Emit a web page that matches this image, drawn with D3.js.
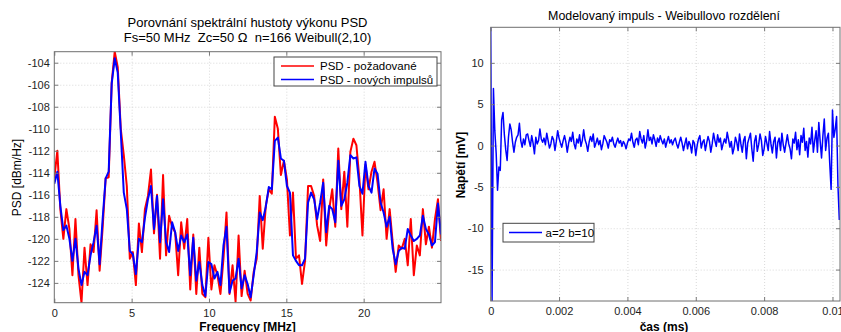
<!DOCTYPE html>
<html>
<head>
<meta charset="utf-8">
<script src="https://cdn.jsdelivr.net/npm/d3@7"></script>
<style>
  body { margin: 0; background: #fff; }
  svg { font-family: "Liberation Sans", Arial, sans-serif; }
  .grid line { stroke: #cfcfcf; stroke-dasharray: 1,2; stroke-width: 0.8; }
  .grid path { display: none; }
  .ax path { display: none; }
  .ax line { stroke: #7a7a7a; }
  .ax text { fill: #1e1e1e; font-size: 11px; }
</style>
</head>
<body>
<div id="chart"></div>
<script>
// PSD, 256-pt FFT at Fs = 50 MHz -> 129 bins from 0 to 25 MHz
const psdRed = [
  -114.5, -112.0, -117.3, -120.0, -117.3, -119.1, -123.3, -118.2, -123.3, -125.8,
  -120.8, -124.2, -120.5, -121.2, -117.4, -122.9, -119.0, -114.5, -114.4, -105.8,
  -103.0, -104.4, -110.0, -112.4, -115.2, -121.8, -121.2, -124.2, -118.6, -121.2,
  -117.3, -116.1, -113.7, -119.5, -116.0, -121.8, -114.2, -121.5, -117.9, -118.9,
  -119.4, -123.3, -118.5, -120.9, -118.2, -124.6, -119.6, -125.0, -120.8, -125.0,
  -125.3, -119.9, -124.6, -122.4, -123.3, -125.0, -121.8, -117.6, -125.0, -122.4,
  -125.7, -119.7, -125.2, -122.9, -125.0, -125.6, -123.0, -121.8, -116.1, -120.9,
  -117.0, -115.5, -115.9, -108.9, -110.0, -114.2, -112.9, -114.6, -119.7, -115.8,
  -121.8, -121.5, -124.1, -122.0, -115.2, -115.2, -116.1, -118.8, -120.2, -114.6,
  -120.6, -117.3, -115.5, -118.9, -111.8, -117.3, -113.9, -118.9, -112.1, -110.9,
  -111.5, -114.6, -119.7, -113.3, -115.5, -113.9, -113.0, -114.9, -117.4, -115.5,
  -120.0, -117.3, -120.3, -123.0, -120.6, -120.9, -120.0, -122.4, -118.2, -123.3,
  -120.6, -121.5, -117.3, -120.5, -118.9, -120.8, -118.2, -116.4, -120.2
];
const psdBlue = [
  -115.0, -113.9, -117.0, -119.2, -118.8, -120.0, -122.0, -120.0, -122.7, -124.2,
  -123.0, -123.3, -121.5, -120.3, -118.8, -122.3, -118.2, -114.5, -113.9, -105.9,
  -103.6, -104.9, -110.3, -115.8, -117.3, -121.1, -121.4, -123.2, -120.0, -120.3,
  -118.1, -116.4, -115.2, -119.1, -116.1, -120.3, -116.4, -120.3, -121.2, -118.5,
  -119.4, -121.1, -119.7, -120.3, -119.6, -123.3, -119.9, -123.8, -122.1, -124.2,
  -125.2, -122.1, -122.3, -123.6, -123.0, -124.2, -120.6, -118.9, -124.9, -123.8,
  -123.6, -121.8, -124.5, -123.3, -124.1, -125.3, -123.3, -121.2, -117.6, -118.3,
  -117.1, -115.3, -115.5, -111.1, -110.8, -112.7, -112.9, -115.2, -115.8, -121.5,
  -122.0, -122.4, -122.4, -121.8, -116.7, -115.8, -116.4, -118.2, -116.7, -114.9,
  -119.4, -117.0, -117.3, -118.5, -112.9, -117.0, -116.4, -114.9, -112.4, -112.7,
  -112.6, -115.2, -115.9, -113.0, -115.2, -115.8, -113.6, -114.1, -116.7, -117.6,
  -118.9, -118.0, -120.9, -122.3, -121.1, -120.8, -120.9, -119.1, -119.7, -120.2,
  -120.0, -119.7, -117.9, -119.1, -119.6, -120.6, -120.3, -116.8, -119.6
];
// modelled pulse [mV], every 2nd sample (40 ns)
const pulse = [
  14.3, -18.8, 6.9, 1.8, -0.9, -5.4, -2.6, -3.0, 3.1, 4.0,
  1.3, -0.5, -1.8, 1.0, 2.6, 1.9, 0.4, -0.8, 0.4, 1.0,
  1.3, 2.7, 0.6, -0.2, 0.8, 0.1, 1.3, 1.4, 0.6, -0.1,
  1.2, 0.3, -1.0, 1.0, 0.2, 0.6, 2.0, 0.8,
  0.4, 0.9, 0.1, 1.5, 0.6, -0.3, 0.2, 1.1, 0.7, -0.6, 0.5, 1.8, 0.9, 0.3, -0.2, 0.6, 1.2, 0.4, -0.8, 0.3,
  1.0, 0.5, 1.6, 0.2, -0.4, 0.8, 0.3, 1.3, -0.1, 0.6, 1.9, 0.7, 0.2, -0.7, 0.4, 1.1, 0.5, 1.4, -0.2, 0.3,
  0.9, 0.1, 0.6, -0.5, 0.2, 1.2, 0.8, 0.4, -0.3, 0.7, 0.5, 1.0, 0.2, -0.2, 0.4, 0.9, 0.3, 0.6, -0.1, 0.5,
  0.2, -0.4, 0.3, 0.8, 0.6, 1.5, 0.4, -0.2, 0.7, 0.9, 0.1, 1.7, 0.8, 0.3, 1.2, -0.3, 0.5, 1.9, 0.6, 1.0,
  0.2, 1.3, 0.7, -0.1, 0.9, 0.4, 1.2, 0.6, 0.2, 0.8, -0.2, 0.5, 1.1, 0.3, 0.7, 0.1, 0.6, 0.9, 0.2, -0.3,
  0.4, 1.0, 0.3, -0.6, 0.2, 0.9, -0.4, 0.5, 0.1, -0.9, 0.6, 0.3, -1.2, 0.0, 0.8, 1.2, -0.3, 0.4, 0.7, -0.6,
  0.3, 1.1, 0.5, -0.8, 0.2, 1.5, 0.6, -0.1, 1.3, 0.4, 0.9, -0.5, 0.2, 0.8, 0.3, 1.6, 0.7, -0.2, 0.5, -1.0,
  -0.3, 1.0, 0.4, -0.6, 1.4, 0.2, -0.8, 0.6, 1.1, -1.6, 0.3, 0.9, 1.5, -0.4, -1.9, 0.5, 1.2, -0.7, 0.1, 1.4,
  0.6, -1.2, -0.4, 1.1, 0.3, -0.6, 1.7, 0.2, -0.9, 0.5, 1.0, -1.5, 0.4, 0.9, -0.6, 1.5, 0.1, -0.8, 0.3, 1.3,
  0.2, -0.4, -1.6, 0.8, 0.3, 1.6, -0.5, 0.7, -1.1, 1.2, 0.4, 2.1, -0.6, 0.5, -1.4, 0.9, 0.2, 2.2, -0.8, 0.6,
  1.8, -0.8, 2.8, 0.5, -1.5, 1.2, 3.2, -0.6, 0.9, 1.5, -2.2, -5.3, 4.3, 1.0, 2.0, 3.5, -4.8, -9.0
];
const freqTicks = [0, 5, 10, 15, 20];
const psdTicks = [-124, -122, -120, -118, -116, -114, -112, -110, -108, -106, -104];
const timeTicks = [0, 0.002, 0.004, 0.006, 0.008, 0.01];
const voltTicks = [-15, -10, -5, 0, 5, 10];

const fs = 50;                        // MHz
const freqStep = fs / 256;            // MHz per bin
const timeStep = 2 / (fs * 1000);     // ms per stored sample
const timeMax = 511 / (fs * 1000);

const width = 841, height = 332;
const svg = d3.select("#chart").append("svg")
  .attr("width", width).attr("height", height);

function drawPanel(x, y, xt, yt, id) {
  const [x0, x1] = x.range(), [y1, y0] = y.range();
  const g = svg.append("g");
  g.append("rect").attr("x", x0).attr("y", y0).attr("width", x1 - x0).attr("height", y1 - y0).attr("fill", "#fff");
  g.append("g").attr("class", "grid").attr("transform", `translate(0,${y1})`)
    .call(d3.axisBottom(x).tickValues(xt.filter(d => d > x.domain()[0])).tickSize(-(y1 - y0)).tickFormat(""));
  g.append("g").attr("class", "grid").attr("transform", `translate(${x0},0)`)
    .call(d3.axisLeft(y).tickValues(yt).tickSize(-(x1 - x0)).tickFormat(""));
  svg.append("clipPath").attr("id", id).append("rect")
    .attr("x", x0).attr("y", y0).attr("width", x1 - x0).attr("height", y1 - y0);
  return g;
}

function drawFrame(x, y, xt, yt, xf, lpad) {
  const [x0, x1] = x.range(), [y1, y0] = y.range();
  const g = svg.append("g");
  g.append("g").attr("class", "ax").attr("transform", `translate(0,${y1})`)
    .call(d3.axisBottom(x).tickValues(xt).tickSize(-4).tickPadding(6.5).tickFormat(xf));
  g.append("g").attr("class", "ax").attr("transform", `translate(0,${y0})`)
    .call(d3.axisTop(x).tickValues(xt).tickSize(-4).tickFormat(""));
  g.append("g").attr("class", "ax").attr("transform", `translate(${x0},0)`)
    .call(d3.axisLeft(y).tickValues(yt).tickSize(-4).tickPadding(lpad).tickFormat(d3.format("d")));
  g.append("g").attr("class", "ax").attr("transform", `translate(${x1},0)`)
    .call(d3.axisRight(y).tickValues(yt).tickSize(-4).tickFormat(""));
  g.append("rect").attr("x", x0).attr("y", y0).attr("width", x1 - x0).attr("height", y1 - y0)
    .attr("fill", "none").attr("stroke", "#6f6f6f").attr("stroke-width", 1);
  g.selectAll(".ax text").text(function () { return this.textContent.replace("−", "-"); });
}

// ---- left: PSD comparison ----
const xF = d3.scaleLinear().domain([0, 25]).range([54.3, 441]);
const yP = d3.scaleLinear().domain(d3.extent(psdRed.concat(psdBlue))).range([302.7, 51.7]);
drawPanel(xF, yP, freqTicks, psdTicks, "clipL");

const psdLine = d3.line().x((d, i) => xF(i * freqStep)).y(d => yP(d));
svg.append("path").datum(psdRed).attr("d", psdLine).attr("clip-path", "url(#clipL)")
  .attr("fill", "none").attr("stroke", "#ff0000").attr("stroke-width", 2).attr("stroke-linejoin", "round");
svg.append("path").datum(psdBlue).attr("d", psdLine).attr("clip-path", "url(#clipL)")
  .attr("fill", "none").attr("stroke", "#0000ff").attr("stroke-width", 2).attr("stroke-linejoin", "round");
drawFrame(xF, yP, freqTicks, psdTicks, d3.format("d"), 4.5);

// legend
const legL = svg.append("g").attr("font-size", 11.5);
legL.append("rect").attr("x", 274).attr("y", 57).attr("width", 163).attr("height", 29)
  .attr("fill", "#fff").attr("stroke", "#444");
[["PSD - požadované", "#ff0000", 66], ["PSD - nových impulsů", "#0000ff", 79.5]].forEach(([t, c, yy]) => {
  legL.append("line").attr("x1", 281).attr("x2", 314).attr("y1", yy).attr("y2", yy).attr("stroke", c).attr("stroke-width", 1.5);
  legL.append("text").attr("x", 320).attr("y", yy + 4.2).text(t);
});

svg.append("text").attr("x", 247.5).attr("y", 26.7).attr("text-anchor", "middle").attr("font-size", 13)
  .text("Porovnání spektrální hustoty výkonu PSD");
svg.append("text").attr("x", 247.5).attr("y", 42.3).attr("text-anchor", "middle").attr("font-size", 13)
  .attr("xml:space", "preserve").style("white-space", "pre")
  .text("Fs=50 MHz  Zc=50 Ω  n=166 Weibull(2,10)");
svg.append("text").attr("transform", "translate(21,177.5) rotate(-90)").attr("text-anchor", "middle")
  .attr("font-size", 12).text("PSD [dBm/Hz]");
svg.append("text").attr("x", 247.5).attr("y", 331.3).attr("text-anchor", "middle")
  .attr("font-size", 12).attr("font-weight", "bold").text("Frequency [MHz]");

// ---- right: modelled pulse ----
const xT = d3.scaleLinear().domain([0, timeMax]).range([490.7, 840]);
const yV = d3.scaleLinear().domain(d3.extent(pulse)).range([301, 27.3]);
drawPanel(xT, yV, timeTicks, voltTicks, "clipR");
svg.append("path").datum(pulse)
  .attr("d", d3.line().x((d, i) => xT(i * timeStep)).y(d => yV(d)))
  .attr("clip-path", "url(#clipR)")
  .attr("fill", "none").attr("stroke", "#0000ff").attr("stroke-width", 1.5).attr("stroke-linejoin", "round");
drawFrame(xT, yV, timeTicks, voltTicks, d => d === 0 ? "0" : d3.format("~g")(d), 7);

const legR = svg.append("g").attr("font-size", 11.5);
legR.append("rect").attr("x", 503).attr("y", 223.3).attr("width", 91).attr("height", 18.7)
  .attr("fill", "#fff").attr("stroke", "#444");
legR.append("line").attr("x1", 509).attr("x2", 542).attr("y1", 232.5).attr("y2", 232.5)
  .attr("stroke", "#0000ff").attr("stroke-width", 1.5);
legR.append("text").attr("x", 545.5).attr("y", 236.6).text("a=2 b=10");

svg.append("text").attr("x", 664).attr("y", 19.5).attr("text-anchor", "middle").attr("font-size", 12.4)
  .text("Modelovaný impuls - Weibullovo rozdělení");
svg.append("text").attr("transform", "translate(465,165) rotate(-90)").attr("text-anchor", "middle")
  .attr("font-size", 12).attr("font-weight", "bold").text("Napětí [mV]");
svg.append("text").attr("x", 664).attr("y", 331).attr("text-anchor", "middle")
  .attr("font-size", 12).attr("font-weight", "bold").text("čas (ms)");
</script>
</body>
</html>
